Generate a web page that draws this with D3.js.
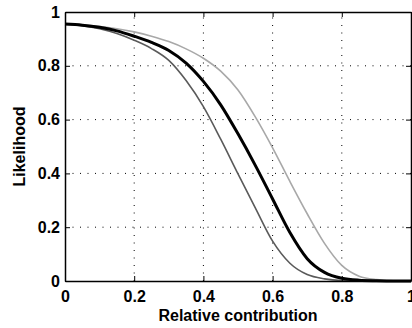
<!DOCTYPE html>
<html>
<head>
<meta charset="utf-8">
<script src="https://cdn.jsdelivr.net/npm/d3@7"></script>
<style>
    body { margin: 0; background: #fff; }
    text { font-family: "Liberation Sans", Arial, sans-serif; font-weight: bold; }
</style>
</head>
<body>
<div id="chart"></div>
<script>
const xValues = [0, 0.05, 0.1, 0.15, 0.2, 0.25, 0.3, 0.35, 0.4, 0.45, 0.5, 0.55, 0.6, 0.65, 0.7, 0.75, 0.8, 0.85, 0.9, 0.95, 1];

// left (dark gray), middle (black, thick), right (light gray)
const darkValues  = [0.955, 0.949, 0.938, 0.92, 0.895, 0.864, 0.82, 0.745, 0.648, 0.527, 0.398, 0.272, 0.148, 0.066, 0.024, 0.008, 0.002, 0.001, 0, 0, 0];
const blackValues = [0.955, 0.951, 0.943, 0.93, 0.91, 0.887, 0.857, 0.81, 0.742, 0.655, 0.547, 0.43, 0.305, 0.18, 0.083, 0.032, 0.01, 0.003, 0.001, 0, 0];
const lightValues = [0.955, 0.952, 0.946, 0.938, 0.926, 0.91, 0.89, 0.863, 0.828, 0.78, 0.71, 0.61, 0.495, 0.37, 0.25, 0.14, 0.058, 0.018, 0.005, 0.001, 0];

const tickValues = [0, 0.2, 0.4, 0.6, 0.8, 1];
const tickLabels = ["0", "0.2", "0.4", "0.6", "0.8", "1"];

const width = 412, height = 328;
const margin = { top: 12, right: 1, bottom: 47, left: 65 };

const svg = d3.select("#chart")
    .append("svg")
    .attr("width", width)
    .attr("height", height);

const x = d3.scaleLinear().domain([0, 1]).range([margin.left, width - margin.right]);
const y = d3.scaleLinear().domain([0, 1]).range([height - margin.bottom, margin.top]);

// dotted grid
const inner = tickValues.slice(1, -1);
svg.append("g")
    .selectAll("line")
    .data(inner)
    .join("line")
    .attr("x1", d => x(d)).attr("x2", d => x(d))
    .attr("y1", y(0)).attr("y2", y(1))
    .attr("stroke", "#000")
    .attr("stroke-width", 1)
    .attr("stroke-dasharray", "1,6.5");

svg.append("g")
    .selectAll("line")
    .data(inner)
    .join("line")
    .attr("y1", d => y(d)).attr("y2", d => y(d))
    .attr("x1", x(0)).attr("x2", x(1))
    .attr("stroke", "#000")
    .attr("stroke-width", 1)
    .attr("stroke-dasharray", "1,6.5");

// curves
const line = d3.line()
    .x(d => x(d[0]))
    .y(d => y(d[1]))
    .curve(d3.curveMonotoneX);

const series = [
    { values: darkValues, color: "#5a5a5a", width: 1.6 },
    { values: lightValues, color: "#a8a8a8", width: 1.6 },
    { values: blackValues, color: "#000", width: 3 }
];

svg.append("g")
    .selectAll("path")
    .data(series)
    .join("path")
    .attr("d", s => line(xValues.map((v, i) => [v, s.values[i]])))
    .attr("fill", "none")
    .attr("stroke", s => s.color)
    .attr("stroke-width", s => s.width);

// axes with inward ticks on all four sides
const axisBottom = d3.axisBottom(x).tickValues(tickValues).tickFormat((d, i) => tickLabels[i]).tickSizeInner(-5).tickSizeOuter(0).tickPadding(10);
const axisLeft = d3.axisLeft(y).tickValues(tickValues).tickFormat((d, i) => tickLabels[i]).tickSizeInner(-5).tickSizeOuter(0).tickPadding(5);
const axisTop = d3.axisTop(x).tickValues(tickValues).tickFormat("").tickSizeInner(-5).tickSizeOuter(0);
const axisRight = d3.axisRight(y).tickValues(tickValues).tickFormat("").tickSizeInner(-5).tickSizeOuter(0);

svg.append("g").attr("transform", `translate(0,${y(0)})`).call(axisBottom);
svg.append("g").attr("transform", `translate(${x(0)},0)`).call(axisLeft);
svg.append("g").attr("transform", `translate(0,${y(1)})`).call(axisTop);
svg.append("g").attr("transform", `translate(${x(1)},0)`).call(axisRight);

svg.selectAll(".domain").attr("stroke", "#000").attr("stroke-width", 1.5);
svg.selectAll(".tick line").attr("stroke", "#000");
svg.selectAll(".tick text")
    .attr("fill", "#000")
    .style("font-size", "16px");

// axis titles
svg.append("text")
    .attr("x", (x(0) + x(1)) / 2)
    .attr("y", 321)
    .attr("text-anchor", "middle")
    .style("font-size", "16px")
    .text("Relative contribution");

svg.append("text")
    .attr("transform", `translate(25,${(y(0) + y(1)) / 2}) rotate(-90)`)
    .attr("text-anchor", "middle")
    .style("font-size", "16px")
    .text("Likelihood");
</script>
</body>
</html>
